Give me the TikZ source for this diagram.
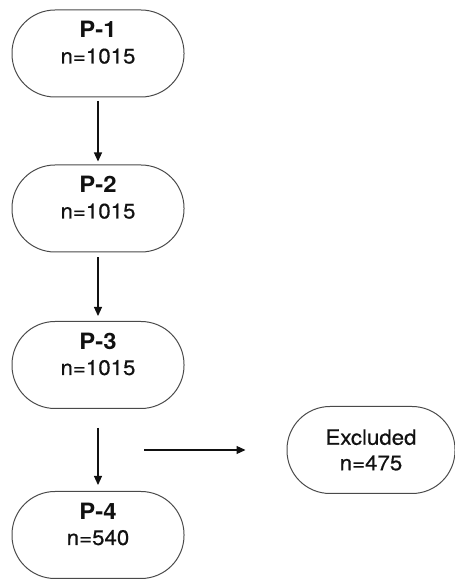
\documentclass[tikz,border=0pt]{standalone}
\definecolor{FEdge}{HTML}{4A4A4A}
\definecolor{FInk}{HTML}{111111}
\usepackage{fontspec}
\setmainfont{TeX Gyre Heros}[FakeStretch=1.06,UprightFeatures={FakeBold=0.6}]
\usepackage{tikz}
\usetikzlibrary{arrows.meta,positioning,calc}
\usepackage{xcolor}
\newcommand{\phasehead}[1]{{\fontsize{22.5}{25.5}\selectfont\bfseries #1}}

\begin{document}
\begin{tikzpicture}[x=1pt,y=1pt,
    pbox/.style={draw=FEdge,line width=1pt,rounded corners=43pt,
      minimum width=172pt,minimum height=87pt,align=center,text=FInk,
      font=\fontsize{21}{25.5}\selectfont},
    phase/.style={pbox,text depth=22pt},
    flow/.style={draw=FInk,line width=1.1pt,-{Triangle[length=9pt,width=8pt]}}]
    \useasboundingbox (0,0) rectangle (455,579);
    % phases (left column)
    \node[phase] (P1) at (98,525.5) {\phasehead{P-1}\\n=1015};
    \node[phase] (P2) at (98,370.5) {\phasehead{P-2}\\n=1015};
    \node[phase] (P3) at (98,214) {\phasehead{P-3}\\n=1015};
    \node[phase] (P4) at (98,44) {\phasehead{P-4}\\n=540};
    % excluded
    \node[pbox,minimum width=168pt] (excl) at (371,129) {Excluded\\n=475};
    \coordinate (split) at (144,129);
    % arrows
    \draw[flow,shorten <=3.5pt,shorten >=3pt] (P1) -- (P2);
    \draw[flow,shorten <=5pt,shorten >=5pt] (P2) -- (P3);
    \draw[flow,shorten <=19pt,shorten >=6pt] (P3) -- (P4);
    \draw[flow,shorten >=41pt] (split) -- (excl.west);
\end{tikzpicture}
\end{document}
